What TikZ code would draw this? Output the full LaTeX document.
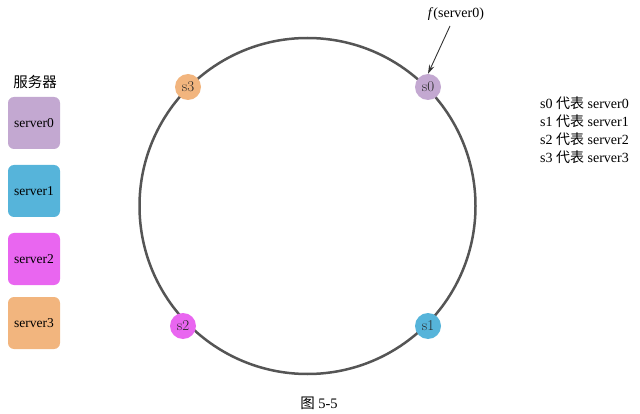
\documentclass[tikz,border=0pt]{standalone}
\usepackage{fontspec}
\setmainfont{Liberation Serif}
\newfontfamily\cjk{Noto Sans CJK SC}
\newfontfamily\lmfont{Latin Modern Roman}
\usetikzlibrary{arrows.meta}
\definecolor{cA}{HTML}{C3A8D1}
\definecolor{cB}{HTML}{56B4DA}
\definecolor{cC}{HTML}{E966F0}
\definecolor{cD}{HTML}{F2B57E}
\definecolor{ring}{HTML}{555555}
\tikzset{
  srvbox/.style={fill=#1, rounded corners=6pt, minimum width=52pt, minimum height=52pt, inner sep=0pt, font=\fontsize{13.5}{15}\selectfont},
  ringnode/.style={circle, fill=#1, minimum size=26pt, inner sep=0pt, text=black!85, font=\lmfont\fontsize{15}{16}\selectfont},
  legend/.style={anchor=west, font=\fontsize{14}{16}\selectfont, inner sep=0pt}
}
\begin{document}
\begin{tikzpicture}[x=1pt,y=-1pt]
\useasboundingbox (0,0) rectangle (640,414);
\draw[ring, line width=2.5pt] (307.5,206) circle (168);
\node[ringnode=cA] (s0) at (428,87) {s0};
\node[ringnode=cB] (s1) at (428,326) {s1};
\node[ringnode=cC] (s2) at (183,326) {s2};
\node[ringnode=cD] (s3) at (188,87) {s3};
\node[font=\fontsize{14}{16}\selectfont] (f) at (456,14) {\textit{f}(server0)};
\draw[-{Stealth[length=9pt,width=5.5pt]}, line width=0.9pt, black!80] (f.south) ++(-6,2) coordinate (fs) (fs) -- (s0.north);
\node[font=\cjk\fontsize{14.5}{16}\selectfont] (title) at (35,82) {服务器};
\node[srvbox=cA] (b0) at (34,123) {server0};
\node[srvbox=cB] (b1) at (34,191) {server1};
\node[srvbox=cC] (b2) at (34,259) {server2};
\node[srvbox=cD] (b3) at (34,323) {server3};
\node[legend] (l0) at (540,103) {s0 {\cjk 代表} server0};
\node[legend] (l1) at (540,121) {s1 {\cjk 代表} server1};
\node[legend] (l2) at (540,139) {s2 {\cjk 代表} server2};
\node[legend] (l3) at (540,157) {s3 {\cjk 代表} server3};
\node[font=\fontsize{14.5}{16}\selectfont] (cap) at (319,403) {{\cjk 图} 5-5};
\end{tikzpicture}
\end{document}
